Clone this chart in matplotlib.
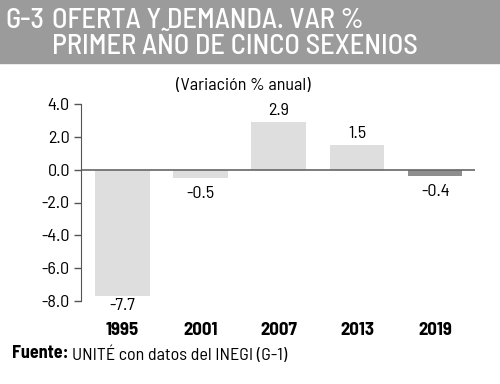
import matplotlib
matplotlib.use("Agg")
import matplotlib.pyplot as plt

years = ['1995', '2001', '2007', '2013', '2019']
values = [-7.7, -0.5, 2.9, 1.5, -0.4]
bar_colors = ['#dedede', '#dedede', '#dedede', '#dedede', '#8e8e8e']
yticks = [4.0, 2.0, 0.0, -2.0, -4.0, -6.0, -8.0]

plt.rcParams['font.family'] = ['Barlow Semi Condensed', 'DejaVu Sans']

fig = plt.figure(figsize=(5, 3.84), dpi=100)

# grey header band
fig.patches.append(plt.Rectangle((0, 1 - 63 / 384), 1, 63 / 384, transform=fig.transFigure,
                                 color='#9b9b9b', zorder=0))
title_kw = dict(color='white', fontsize=20.5, va='center', ha='left', fontweight='medium')
fig.text(5 / 500, 1 - 21 / 384, 'G-3', **title_kw)
fig.text(52 / 500, 1 - 21 / 384, 'OFERTA Y DEMANDA. VAR %', **title_kw)
fig.text(52 / 500, 1 - 47 / 384, 'PRIMER AÑO DE CINCO SEXENIOS', **title_kw)

ax = fig.add_axes([81 / 500, 1 - 301 / 384, (475 - 81) / 500, (301 - 104) / 384])
x = range(len(years))
ax.bar(x, values, width=0.7, color=bar_colors, zorder=1)
ax.axhline(0, color='#666666', lw=1.2, zorder=2)

for i, v in enumerate(values):
    if v >= 0:
        ax.text(i, v + 0.25, f'{v:.1f}', ha='center', va='bottom', fontsize=13)
    elif v < -5:
        ax.text(i, v - 0.1, f'{v:.1f}', ha='center', va='top', fontsize=13)
    else:
        ax.text(i, v - 0.5, f'{v:.1f}', ha='center', va='top', fontsize=13)

ax.set_ylim(-8, 4)
ax.set_xlim(-0.53, 4.51)
ax.set_yticks(yticks)
ax.set_yticklabels([f'{t:.1f}' for t in yticks], fontsize=13)
ax.set_xticks(list(x))
ax.set_xticklabels(years, fontsize=13.5, fontweight='bold')
ax.tick_params(axis='x', length=0, pad=15)
ax.tick_params(axis='y', length=5, color='#555555', width=1, pad=3)
for s in ['top', 'right', 'bottom']:
    ax.spines[s].set_visible(False)
ax.spines['left'].set_color('#555555')

fig.text(243 / 500, 1 - 86 / 384, '(Variación % anual)', ha='center', va='center', fontsize=13)

src = fig.text(12 / 500, 1 - 354 / 384, 'Fuente:', ha='left', va='center', fontsize=13,
               fontweight='bold')
fig.canvas.draw()
bb = src.get_window_extent()
fig.text((bb.x1 + 3) / 500, 1 - 354 / 384, 'UNITÉ con datos del INEGI (G-1)', ha='left',
         va='center', fontsize=13)

fig.savefig('out.png', dpi=100)
